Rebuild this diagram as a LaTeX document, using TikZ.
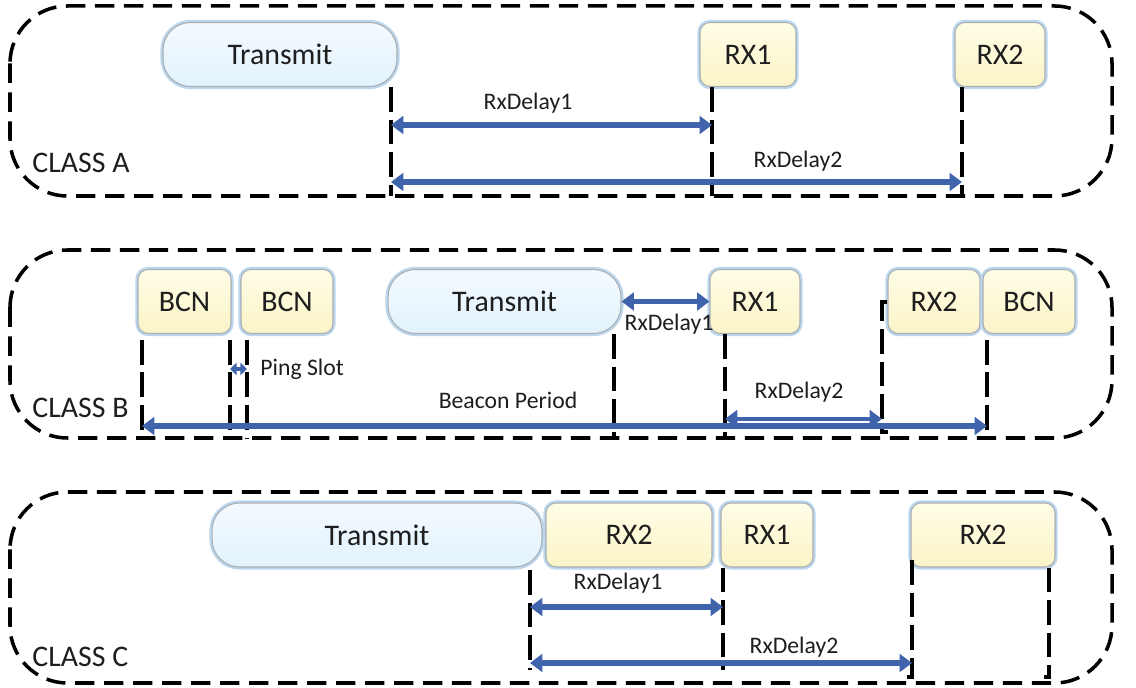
\documentclass[tikz,border=0pt]{standalone}
\usepackage{fontspec}
\setmainfont{Carlito}
\usetikzlibrary{arrows.meta,calc}

\definecolor{txfillA}{HTML}{F3FAFF}
\definecolor{txfillB}{HTML}{E2F2FC}
\definecolor{rxfillA}{HTML}{FFFDE6}
\definecolor{rxfillB}{HTML}{FBF4C8}
\definecolor{boxedge}{HTML}{A9AEB3}
\definecolor{boxglow}{HTML}{BCD6EE}
\definecolor{timeblue}{HTML}{3F64AC}
\definecolor{ink}{HTML}{1E1E1E}

\begin{document}
\begin{tikzpicture}[x=0.02cm,y=-0.02cm,
  frame/.style={draw=black, line width=2pt, dash pattern=on 11pt off 5.5pt, rounded corners=1.15cm},
  vdash/.style={draw=black, line width=2pt, dash pattern=on 14pt off 4.5pt},
  slotbox/.style={rounded corners=0.2cm, draw=boxedge, line width=0.6pt,
    preaction={draw=boxglow, line width=3pt},
    top color=rxfillA, bottom color=rxfillB,
    minimum height=1.28cm, inner sep=0pt, text=ink, font=\fontsize{17}{20}\selectfont},
  txbox/.style={slotbox, rounded corners=0.55cm, top color=txfillA, bottom color=txfillB},
  barrow/.style={draw=timeblue, line width=3.2pt,
    {Triangle[length=7pt,width=10pt]}-{Triangle[length=7pt,width=10pt]}},
  tinyarrow/.style={draw=timeblue, line width=2.4pt,
    {Triangle[length=3.8pt,width=7pt]}-{Triangle[length=3.8pt,width=7pt]}},
  dlabel/.style={text=ink, font=\fontsize{13.5}{16}\selectfont, inner sep=0pt},
  classlabel/.style={text=ink, font=\fontsize{17}{20}\selectfont, inner sep=0pt, anchor=west}
]
\useasboundingbox (0,0) rectangle (1136,688);

% ---------------- Class A ----------------
\draw[frame] (10,6) rectangle (1112,196);
\node[classlabel] (clsA) at (32,163) {CLASS A};
\node[txbox, minimum width=4.68cm] (TA) at (280,54.5) {Transmit};
\node[slotbox, minimum width=1.92cm] (RA1) at (748,54.5) {RX1};
\node[slotbox, minimum width=1.80cm] (RA2) at (1000,54.5) {RX2};

\coordinate (tA0) at (391,0);
\coordinate (tA1) at (712,0);
\coordinate (tA2) at (962,0);
\coordinate (botA) at (0,196);

\draw[vdash] (tA0 |- TA.south) -- (tA0 |- botA);
\draw[vdash] (tA1 |- RA1.south) -- (tA1 |- botA);
\draw[vdash] (tA2 |- RA2.south) -- (tA2 |- botA);

\draw[barrow] ($(tA0)+(0,125)$) -- ($(tA1)+(0,125)$);
\draw[barrow] ($(tA0)+(0,182)$) -- ($(tA2)+(0,182)$);
\node[dlabel] (dA1) at (528,103) {RxDelay1};
\node[dlabel] (dA2) at (798,161) {RxDelay2};

% ---------------- Class B ----------------
\draw[frame] (10,250) rectangle (1112,438);
\node[classlabel] (clsB) at (32,408) {CLASS B};
\node[slotbox, minimum width=1.86cm] (B1) at (184.5,301.5) {BCN};
\node[slotbox, minimum width=1.84cm] (B2) at (287,301.5) {BCN};
\node[txbox, minimum width=4.66cm] (TB) at (504.5,301.5) {Transmit};
\node[slotbox, minimum width=1.80cm] (RB1) at (755,301.5) {RX1};
\node[slotbox, minimum width=1.84cm] (RB2) at (934,301.5) {RX2};
\node[slotbox, minimum width=1.84cm] (B3) at (1029,301.5) {BCN};

\coordinate (tB0) at (142,0);
\coordinate (tB1) at (230,0);
\coordinate (tB2) at (247,0);
\coordinate (tB3) at (614,0);
\coordinate (tB4) at (725,0);
\coordinate (tB5) at (882,0);
\coordinate (tB6) at (987,0);
\coordinate (botB) at (0,438);

\draw[vdash] ($(tB0)+(0,340)$) -- (tB0 |- botB) -- ++(6,0);
\draw[vdash] ($(tB1)+(0,340)$) -- (tB1 |- botB);
\draw[vdash] ($(tB2)+(0,340)$) -- (tB2 |- botB);
\draw[vdash] (tB3 |- TB.south) -- (tB3 |- botB);
\draw[vdash] (tB4 |- RB1.south) -- (tB4 |- botB);
\draw[vdash] (RB2.west |- 0,302) -- ($(tB5)+(0,302)$) -- ($(tB5)+(0,432)$) -- ++(6,0);
\draw[vdash] ($(tB6)+(0,340)$) -- (tB6 |- botB);

\draw[tinyarrow] ($(tB1)+(0,369)$) -- ($(tB2)+(0,369)$);
\draw[barrow] ($(tB0)+(0,426)$) -- ($(tB6)+(0,426)$);
\draw[barrow] (TB.east) -- (RB1.west);
\draw[barrow, line width=2.4pt] ($(tB4)+(0,419)$) -- ($(tB5)+(0,419)$);

\node[dlabel, anchor=west] (ping) at (260,369) {Ping Slot};
\node[dlabel] (bper) at (508,400) {Beacon Period};
\node[dlabel] (dB1) at (669,324) {RxDelay1};
\node[dlabel] (dB2) at (799,392) {RxDelay2};

% ---------------- Class C ----------------
\draw[frame] (10,492) rectangle (1112,683);
\node[classlabel] (clsC) at (32,657) {CLASS C};
\node[txbox, minimum width=6.60cm] (TC) at (377,535) {Transmit};
\node[slotbox, minimum width=3.32cm] (RC2a) at (629,535) {RX2};
\node[slotbox, minimum width=1.84cm] (RC1) at (767,535) {RX1};
\node[slotbox, minimum width=2.88cm] (RC2b) at (983,535) {RX2};

\coordinate (tC0) at (530,0);
\coordinate (tC1) at (723,0);
\coordinate (tC2) at (912,0);
\coordinate (tC3) at (1049,0);

\draw[vdash] ($(tC0)+(0,570)$) -- ($(tC0)+(0,670)$);
\draw[vdash] (tC1 |- RC1.south) -- ($(tC1)+(0,670)$);
\draw[vdash] ($(tC2)+(0,560)$) -- ($(tC2)+(0,677)$) -- ++(-6,0);
\draw[vdash] (tC3 |- RC2b.south) -- ($(tC3)+(0,677)$) -- ++(-5,0);

\draw[barrow] ($(tC0)+(0,607)$) -- ($(tC1)+(0,607)$);
\draw[barrow] ($(tC0)+(0,663)$) -- ($(tC2)+(0,663)$);
\node[dlabel] (dC1) at (618,583) {RxDelay1};
\node[dlabel] (dC2) at (794,647) {RxDelay2};
\end{tikzpicture}
\end{document}
